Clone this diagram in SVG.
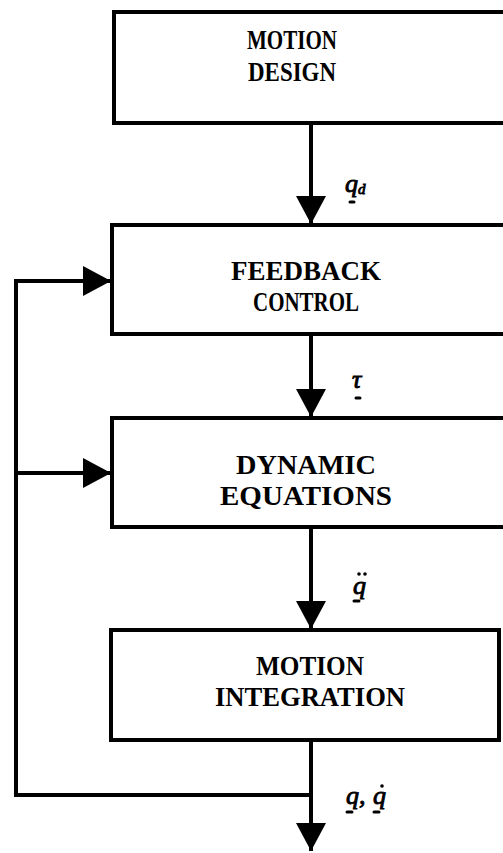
<svg xmlns="http://www.w3.org/2000/svg" width="503" height="853" viewBox="0 0 503 853">
  <style>
    .box { fill: #fff; stroke: #000; stroke-width: 4; }
    .title { font-family: "Liberation Serif", "Times New Roman", serif; font-weight: bold; font-size: 27px; fill: #000; text-anchor: middle; }
    .sym { font-family: "Liberation Serif", "Times New Roman", serif; font-style: italic; font-size: 26px; fill: #000; stroke: #000; stroke-width: 0.9; }
    .wire { fill: none; stroke: #000; stroke-width: 4; }
    .bar { stroke: #000; stroke-width: 3; stroke-linecap: round; }
  </style>
  <defs>
    <marker id="head" viewBox="0 0 28 30" refX="28" refY="15" markerWidth="28" markerHeight="30" markerUnits="userSpaceOnUse" orient="auto">
      <path d="M0,0 L28,15 L0,30 Z" fill="#000"/>
    </marker>
  </defs>

  <!-- blocks -->
  <g id="motion-design">
    <rect class="box" x="114" y="12" width="400" height="111"/>
    <text class="title" x="292" y="49" textLength="90" lengthAdjust="spacingAndGlyphs">MOTION</text>
    <text class="title" x="292" y="81" textLength="88" lengthAdjust="spacingAndGlyphs">DESIGN</text>
  </g>
  <g id="feedback-control">
    <rect class="box" x="112" y="225" width="402" height="109"/>
    <text class="title" x="306" y="280" textLength="150" lengthAdjust="spacingAndGlyphs">FEEDBACK</text>
    <text class="title" x="306" y="311" textLength="106" lengthAdjust="spacingAndGlyphs">CONTROL</text>
  </g>
  <g id="dynamic-equations">
    <rect class="box" x="112" y="418" width="402" height="109"/>
    <text class="title" x="306" y="474" textLength="140" lengthAdjust="spacingAndGlyphs">DYNAMIC</text>
    <text class="title" x="306" y="505" textLength="172" lengthAdjust="spacingAndGlyphs">EQUATIONS</text>
  </g>
  <g id="motion-integration">
    <rect class="box" x="111" y="630" width="388" height="110"/>
    <text class="title" x="310" y="675" textLength="108" lengthAdjust="spacingAndGlyphs">MOTION</text>
    <text class="title" x="310" y="706" textLength="190" lengthAdjust="spacingAndGlyphs">INTEGRATION</text>
  </g>

  <!-- connectors -->
  <g id="connectors">
    <line class="wire" x1="311" y1="123" x2="311" y2="224" marker-end="url(#head)"/>
    <line class="wire" x1="311" y1="334" x2="311" y2="417" marker-end="url(#head)"/>
    <line class="wire" x1="311" y1="527" x2="311" y2="629" marker-end="url(#head)"/>
    <line class="wire" x1="311" y1="740" x2="311" y2="851" marker-end="url(#head)"/>
    <path class="wire" d="M311,795 H16 V281 H111" marker-end="url(#head)"/>
    <line class="wire" x1="16" y1="473" x2="111" y2="473" marker-end="url(#head)"/>
  </g>

  <!-- signal labels -->
  <g id="labels">
    <text class="sym" x="345" y="192">q<tspan font-size="15" dy="2">d</tspan></text>
    <line class="bar" x1="350" y1="202" x2="354" y2="202"/>
    <text class="sym" x="352" y="388">τ</text>
    <line class="bar" x1="356" y1="398" x2="360" y2="398"/>
    <text class="sym" x="353" y="594">q</text>
    <circle cx="359" cy="574" r="1.8"/>
    <circle cx="365" cy="574" r="1.8"/>
    <line class="bar" x1="354" y1="601" x2="359" y2="601"/>
    <text class="sym" x="346" y="804">q,</text>
    <line class="bar" x1="347" y1="812" x2="352" y2="812"/>
    <text class="sym" x="373" y="804">q</text>
    <circle cx="382" cy="786" r="1.8"/>
    <line class="bar" x1="374" y1="812" x2="379" y2="812"/>
  </g>
</svg>
